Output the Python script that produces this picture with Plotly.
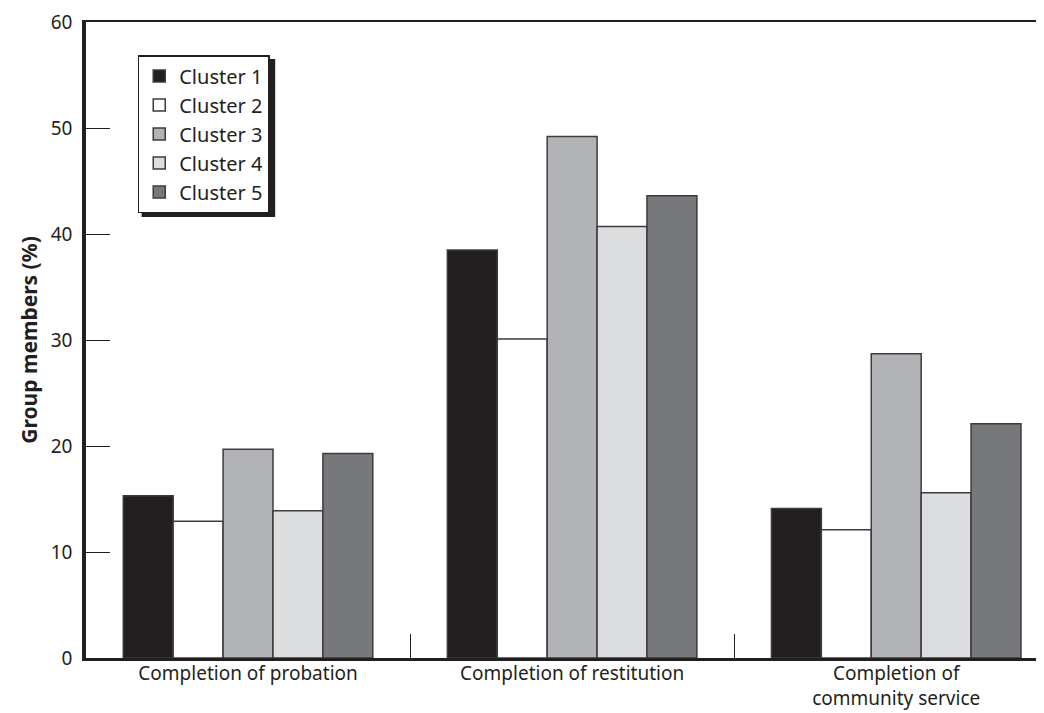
import plotly.graph_objects as go

categories = ["Completion of probation", "Completion of restitution", "Completion of<br>community service"]
series_names = ["Cluster 1", "Cluster 2", "Cluster 3", "Cluster 4", "Cluster 5"]
cluster1 = [15.3, 38.5, 14.1]
cluster2 = [12.9, 30.1, 12.1]
cluster3 = [19.7, 49.2, 28.7]
cluster4 = [13.9, 40.7, 15.6]
cluster5 = [19.3, 43.6, 22.1]
y_ticks = [0, 10, 20, 30, 40, 50, 60]

values = [cluster1, cluster2, cluster3, cluster4, cluster5]
colors = ["#231f20", "#ffffff", "#b2b3b6", "#dcdddf", "#77787b"]
ink = "#231f20"
font = "Noto Sans"

fig = go.Figure()
for name, vals, col in zip(series_names, values, colors):
    fig.add_trace(go.Bar(
        x=categories, y=vals, name=name,
        marker=dict(color=col, line=dict(color="#3c3c3e", width=1.5)),
    ))

# legend drop shadow (paper coordinates)
fig.add_shape(type="rect", xref="paper", yref="paper",
              x0=0.058, x1=0.1975, y0=0.6935, y1=0.942,
              fillcolor=ink, line=dict(width=0), layer="above")

# page body has an 8px margin, so the figure is shifted by 8px; margins compensate
fig.update_layout(
    width=1044, height=713,
    margin=dict(l=78, r=8, t=14, b=63, autoexpand=False),
    paper_bgcolor="white", plot_bgcolor="white",
    barmode="group", bargap=0.23, bargroupgap=0,
    font=dict(family=font, size=20, color=ink),
    showlegend=True,
    legend=dict(
        x=0.054, y=0.948, xanchor="left", yanchor="top",
        bgcolor="white", bordercolor=ink, borderwidth=1.5,
        font=dict(family=font, size=20, color=ink),
        tracegroupgap=0,
    ),
    xaxis=dict(
        type="category", range=[-0.5, 2.456], automargin=False,
        showline=True, linecolor=ink, linewidth=3,
        ticks="inside", tickson="boundaries", ticklen=24, tickwidth=1, tickcolor=ink,
        showgrid=False, zeroline=False, ticklabelstandoff=-4,
        tickfont=dict(family=font, size=19, color=ink),
    ),
    xaxis2=dict(
        overlaying="x", side="top", range=[0, 1], automargin=False,
        showline=True, linecolor=ink, linewidth=2,
        showticklabels=False, ticks="", showgrid=False, zeroline=False,
    ),
    yaxis=dict(
        range=[0, 60], tickvals=y_ticks, automargin=False,
        showline=True, linecolor=ink, linewidth=3.5,
        ticks="inside", ticklen=24, tickwidth=1, tickcolor=ink,
        showgrid=False, zeroline=False, ticklabelstandoff=6,
        tickfont=dict(family=font, size=19, color=ink),
        title=dict(text="<b>Group members (%)</b>", font=dict(family=font, size=21, color=ink), standoff=8),
    ),
)
# invisible trace to activate the top axis line
fig.add_trace(go.Scatter(x=[0, 1], y=[0, 0], xaxis="x2", mode="lines",
                         line=dict(width=0), showlegend=False, hoverinfo="skip"))

fig.write_html("out.html")
